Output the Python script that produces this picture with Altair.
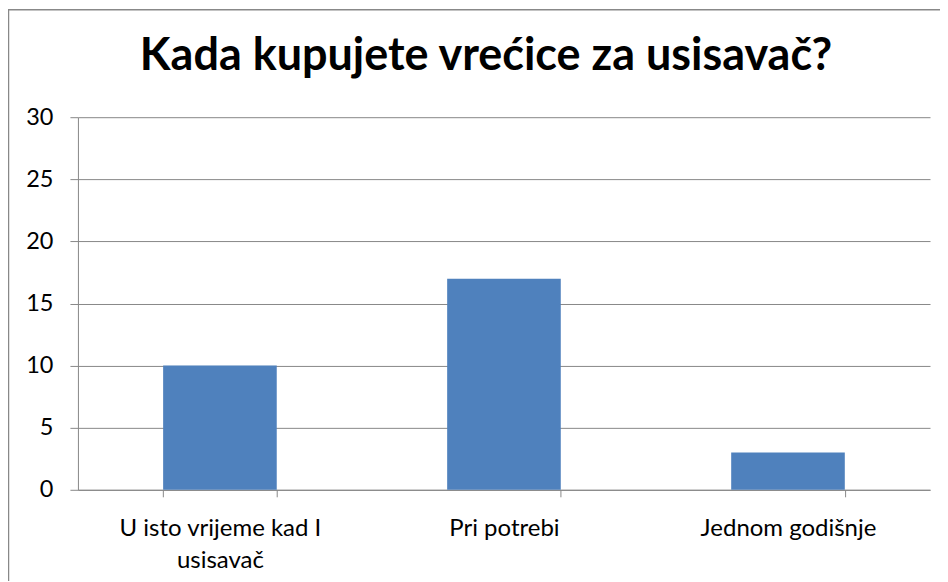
import altair as alt
import pandas as pd

categories = ["U isto vrijeme kad I usisavač", "Pri potrebi", "Jednom godišnje"]
values = [10, 17, 3]
y_ticks = [0, 5, 10, 15, 20, 25, 30]
title_text = "Kada kupujete vrećice za usisavač?"

df = pd.DataFrame({"cat": categories, "val": values})

W, H = 853, 373
FONT = "Lato"
GRAY = "#888888"

bars = alt.Chart(df).mark_bar(color="#4F81BD").encode(
    x=alt.X("cat:N", sort=None, title=None,
            scale=alt.Scale(paddingInner=0.6, paddingOuter=0.3),
            axis=alt.Axis(labelAngle=0, tickBand="extent", tickSize=7,
                          tickColor=GRAY, domainColor=GRAY, labelPadding=20,
                          labelFont=FONT, labelFontSize=24, labelColor="#000000",
                          labelLineHeight=32, labelLimit=400,
                          labelExpr="datum.label == 'U isto vrijeme kad I usisavač' ? ['U isto vrijeme kad I', 'usisavač'] : datum.label")),
    y=alt.Y("val:Q", title=None,
            scale=alt.Scale(domain=[0, 30], nice=False),
            axis=alt.Axis(values=y_ticks, tickSize=8, tickColor=GRAY, domainColor=GRAY,
                          gridColor=GRAY, labelPadding=17, labelFont=FONT,
                          labelFontSize=23.5, labelColor="#000000")),
)

frame = pd.DataFrame({"k": [0]})
top_line = alt.Chart(frame).mark_rule(color=GRAY, strokeWidth=1.5, clip=False).encode(
    x=alt.value(-70), x2=alt.value(W + 20), y=alt.value(-107.5))
left_line = alt.Chart(frame).mark_rule(color=GRAY, strokeWidth=1.5, clip=False).encode(
    x=alt.value(-69.5), y=alt.value(-108), y2=alt.value(H + 100))
title = alt.Chart(pd.DataFrame({"t": [title_text]})).mark_text(
    font=FONT, fontSize=45, fontWeight="bold", color="#000000",
    align="center", baseline="alphabetic", clip=False).encode(
    text="t:N", x=alt.value(W / 2 - 18), y=alt.value(-47))

chart = alt.layer(bars, top_line, left_line, title).properties(
    width=W, height=H,
    autosize=alt.AutoSizeParams(type="none"),
    padding={"left": 70, "top": 109, "right": 10, "bottom": 91},
).configure_view(stroke=None).configure_axis(grid=True).configure_axisX(grid=False)

chart.save("out.html", embed_options={"renderer": "svg", "actions": False})
